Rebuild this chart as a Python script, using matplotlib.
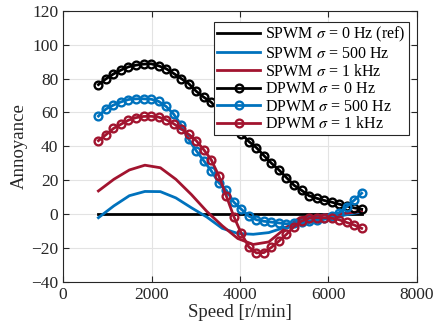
import matplotlib
matplotlib.use("Agg")
import matplotlib.pyplot as plt

plt.rcParams['font.family'] = ['Liberation Serif', 'DejaVu Serif']
plt.rcParams['mathtext.fontset'] = 'stix'

# DPWM sample speeds (r/min)
dpwm_speed = [800, 970, 1140, 1310, 1480, 1650, 1820, 1990, 2160, 2330, 2500, 2670,
              2840, 3010, 3180, 3350, 3520, 3690, 3860, 4030, 4200, 4370, 4540, 4710,
              4880, 5050, 5220, 5390, 5560, 5730, 5900, 6070, 6240, 6410, 6580, 6750]
dpwm_0 = [76.4, 79.8, 82.7, 85.0, 86.9, 87.9, 88.5, 88.7, 87.5, 85.8, 83.0, 80.0,
          77.0, 72.5, 69.0, 66.0, 61.0, 57.0, 52.0, 47.5, 42.8, 39.2, 34.5, 30.0,
          26.0, 21.5, 17.0, 14.0, 10.8, 9.3, 8.0, 7.0, 5.8, 4.7, 3.6, 2.8]
dpwm_500 = [57.8, 62.0, 64.3, 66.2, 67.6, 68.0, 68.0, 67.8, 66.5, 63.5, 59.0, 52.5,
            44.0, 37.4, 31.5, 25.5, 18.5, 14.0, 7.0, 2.8, -1.3, -3.4, -4.3, -4.8,
            -5.3, -5.8, -5.2, -4.7, -4.3, -3.5, -2.6, -1.2, 0.8, 4.3, 8.1, 12.3]
dpwm_1k = [43.3, 46.8, 50.5, 53.0, 55.4, 56.9, 57.6, 57.7, 57.2, 55.7, 53.3, 50.3,
           47.0, 43.3, 38.0, 32.0, 22.6, 10.7, -1.5, -11.5, -19.5, -23.0, -22.8, -19.7,
           -16.0, -12.0, -7.5, -4.2, -2.6, -2.2, -2.2, -2.5, -3.4, -5.0, -6.5, -8.5]

# SPWM sample speeds (r/min)
spwm_speed = [800, 1150, 1500, 1850, 2200, 2550, 2900, 3250, 3600, 3950, 4300, 4650,
              5000, 5350, 5700, 6050, 6400, 6750]
spwm_0 = [0.0] * len(spwm_speed)
spwm_500 = [-2.2, 4.8, 10.8, 13.3, 13.2, 9.5, 3.7, -1.8, -8.5, -11.5, -12.0, -11.0,
            -8.0, -6.0, -4.5, -2.2, -0.5, 1.2]
spwm_1k = [13.6, 20.5, 26.0, 28.8, 27.3, 20.5, 11.5, 1.5, -7.0, -14.5, -18.0, -16.5,
           -9.0, -2.2, -1.2, -0.2, 0.5, 1.5]

labels = [r'SPWM $\sigma$ = 0 Hz (ref)', r'SPWM $\sigma$ = 500 Hz', r'SPWM $\sigma$ = 1 kHz',
          r'DPWM $\sigma$ = 0 Hz', r'DPWM $\sigma$ = 500 Hz', r'DPWM $\sigma$ = 1 kHz']
xticks = [0, 2000, 4000, 6000, 8000]
yticks = [-40, -20, 0, 20, 40, 60, 80, 100, 120]

c_k = '#000000'
c_b = '#0072BD'
c_r = '#A2142F'

fig = plt.figure(figsize=(4.37, 3.32), dpi=100)
ax = fig.add_axes([0.1442, 0.1515, 0.81, 0.816])

lw = 2.0
ax.plot(spwm_speed, spwm_0, color=c_k, lw=lw, label=labels[0])
ax.plot(spwm_speed, spwm_500, color=c_b, lw=lw, label=labels[1])
ax.plot(spwm_speed, spwm_1k, color=c_r, lw=lw, label=labels[2])
mk = dict(marker='o', markersize=5.6, markerfacecolor='none', markeredgewidth=1.7, lw=lw)
ax.plot(dpwm_speed, dpwm_0, color=c_k, markeredgecolor=c_k, label=labels[3], **mk)
ax.plot(dpwm_speed, dpwm_500, color=c_b, markeredgecolor=c_b, label=labels[4], **mk)
ax.plot(dpwm_speed, dpwm_1k, color=c_r, markeredgecolor=c_r, label=labels[5], **mk)

ax.set_xlim(0, 8000)
ax.set_ylim(-40, 120)
ax.set_xticks(xticks)
ax.set_yticks(yticks)
ax.grid(True, color='#e3e3e3', lw=0.8)
ax.set_axisbelow(True)
ax.tick_params(direction='in', top=True, right=True, labelsize=12.5, length=4,
               width=0.8, color='#262626', labelcolor='#262626')
for s in ax.spines.values():
    s.set_color('#262626')
    s.set_linewidth(0.8)
ax.set_xlabel('Speed [r/min]', fontsize=13.5, color='#262626', labelpad=1)
ax.set_ylabel('Annoyance', fontsize=13.5, color='#262626', labelpad=2)

leg = ax.legend(loc='upper right', bbox_to_anchor=(0.977, 0.959), fontsize=11.5,
                frameon=True, fancybox=False, edgecolor='#262626', framealpha=1,
                handlelength=2.7, handletextpad=0.3, borderpad=0.2, labelspacing=0.1,
                borderaxespad=0.0)
leg.get_frame().set_linewidth(0.8)

fig.savefig('out.png', dpi=100)
